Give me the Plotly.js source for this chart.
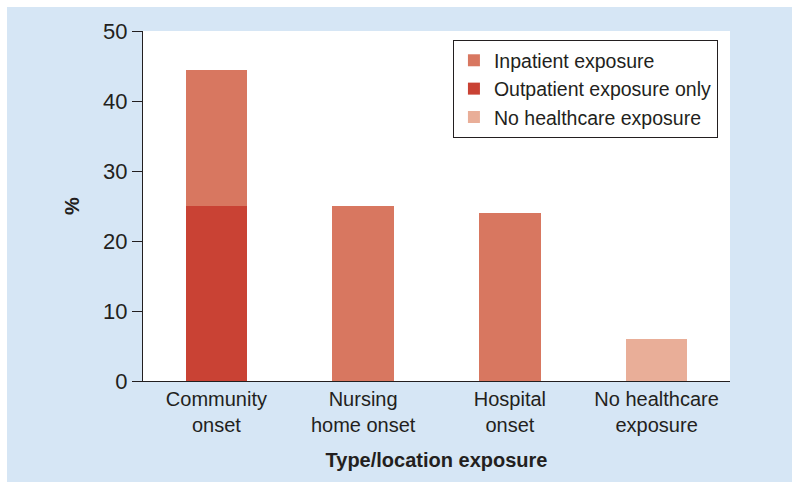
<!DOCTYPE html>
<html><head><meta charset="utf-8">
<script src="https://cdn.plot.ly/plotly-3.0.1.min.js"></script>
<style>body{margin:0;padding:0;background:#fff}#chart{width:800px;height:490px}</style>
</head><body><div id="chart"></div>
<script>
const categories = ["Community<br>onset", "Nursing<br>home onset", "Hospital<br>onset", "No healthcare<br>exposure"];
const outpatient = [25, null, null, null];
const inpatient = [19.5, 25, 24, null];
const noHealthcare = [null, null, null, 6];
const yTicks = [0, 10, 20, 30, 40, 50];

const txt = '#231f20';
const font = {family: 'Liberation Sans, Arial, sans-serif', color: txt};
const traces = [
  {type: 'bar', name: 'Outpatient exposure only', x: categories, y: outpatient, marker: {color: '#c94234'}, legendrank: 2},
  {type: 'bar', name: 'Inpatient exposure', x: categories, y: inpatient, marker: {color: '#d87760'}, legendrank: 1},
  {type: 'bar', name: 'No healthcare exposure', x: categories, y: noHealthcare, marker: {color: '#e9ae98'}, legendrank: 3}
];
const layout = {
  width: 800, height: 490,
  margin: {l: 143, r: 70, t: 31, b: 109},
  paper_bgcolor: '#ffffff', plot_bgcolor: '#ffffff',
  barmode: 'stack', bargap: 0.58,
  font: Object.assign({size: 20}, font),
  showlegend: true,
  legend: {x: 0.528, y: 0.974, xanchor: 'left', yanchor: 'top', bordercolor: '#231f20', borderwidth: 1,
    bgcolor: '#ffffff', traceorder: 'normal', font: Object.assign({size: 19.5}, font), itemwidth: 30,
    tracegroupgap: 0},
  xaxis: {showline: true, linecolor: '#231f20', linewidth: 1, ticks: '', showgrid: false,
    tickfont: Object.assign({size: 20}, font),
    title: {text: '<b>Type/location exposure</b>', font: Object.assign({size: 20}, font), standoff: 17}},
  yaxis: {range: [0, 50], tickvals: yTicks, showline: true, linecolor: '#231f20', linewidth: 1,
    ticks: 'outside', ticklen: 10, tickcolor: '#231f20', showgrid: false, zeroline: false,
    tickfont: Object.assign({size: 22}, font),
    title: {text: '<b>%</b>', font: Object.assign({size: 20}, font), standoff: 18}},
  shapes: [
    {type: 'rect', xref: 'paper', yref: 'paper', layer: 'below',
      x0: -136/587, x1: 649/587, y0: -101/350, y1: 374/350,
      fillcolor: '#d6e6f5', line: {width: 0}},
    {type: 'rect', xref: 'paper', yref: 'paper', layer: 'below',
      x0: 0, x1: 1, y0: 0, y1: 1, fillcolor: '#ffffff', line: {width: 0}}
  ]
};
Plotly.newPlot('chart', traces, layout, {displayModeBar: false, staticPlot: true});
</script></body></html>
